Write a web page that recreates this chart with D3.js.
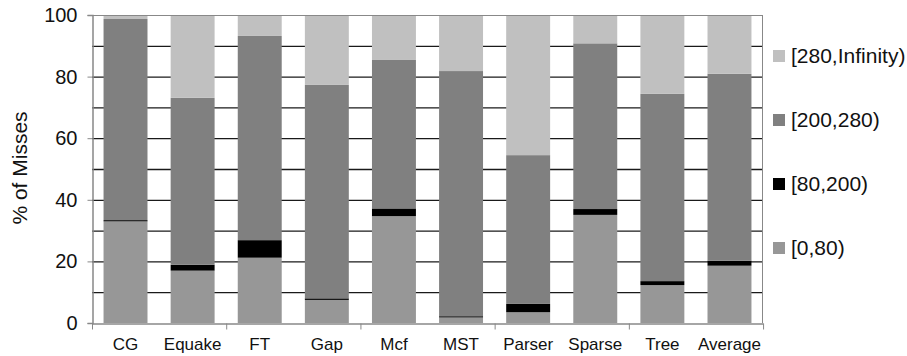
<!DOCTYPE html>
<html><head><meta charset="utf-8">
<script src="https://cdn.jsdelivr.net/npm/d3@7"></script>
<style>body{margin:0;background:#fff}svg{display:block}text{font-family:"Liberation Sans",Arial,sans-serif;fill:#111}</style>
</head><body><svg id="c" width="907" height="356"></svg>
<script>
const categories = ["CG","Equake","FT","Gap","Mcf","MST","Parser","Sparse","Tree","Average"];
const seriesNames = ["[0,80)","[80,200)","[200,280)","[280,Infinity)"];
const s0_80    = [33.0, 17.0, 21.2, 7.5, 34.7, 1.8, 3.5, 35.1, 12.3, 18.6];
const s80_200  = [0.4, 1.9, 5.7, 0.5, 2.5, 0.4, 2.7, 1.9, 1.3, 1.6];
const s200_280 = [65.3, 54.2, 66.3, 69.3, 48.2, 79.6, 48.3, 53.8, 60.8, 60.7];
const s280_inf = [1.3, 26.9, 6.8, 22.7, 14.6, 18.2, 45.5, 9.2, 25.6, 19.1];
const colors = ["#979797","#000000","#808080","#c0c0c0"];
const yTicks = [0,20,40,60,80,100];

const svg = d3.select("#c");
const m = {l:92, r:763, t:15, b:323};
const x = d3.scaleBand().domain(categories).range([m.l,m.r]).paddingInner(0.345).paddingOuter(0.172);
const y = d3.scaleLinear().domain([0,100]).range([m.b,m.t]);

// gridlines
svg.append("g").selectAll("line").data(d3.range(10,100,10)).join("line")
  .attr("x1",m.l).attr("x2",m.r).attr("y1",d=>y(d)+0.5).attr("y2",d=>y(d)+0.5)
  .attr("stroke","#1a1a1a").attr("stroke-width",1.3);

const rows = categories.map((c,i)=>({cat:c, "[0,80)":s0_80[i], "[80,200)":s80_200[i], "[200,280)":s200_280[i], "[280,Infinity)":s280_inf[i]}));
const stack = d3.stack().keys(seriesNames)(rows);
svg.append("g").selectAll("g").data(stack).join("g").attr("fill",(d,i)=>colors[i])
  .selectAll("rect").data(d=>d).join("rect")
  .attr("x",d=>x(d.data.cat)).attr("width",x.bandwidth())
  .attr("y",d=>y(d[1])).attr("height",d=>Math.max(0,y(d[0])-y(d[1])));

// frame
svg.append("line").attr("x1",m.l).attr("x2",m.r).attr("y1",m.t+0.5).attr("y2",m.t+0.5).attr("stroke","#888");
svg.append("line").attr("x1",m.r-0.5).attr("x2",m.r-0.5).attr("y1",m.t).attr("y2",m.b).attr("stroke","#888");

// y axis
const ya = d3.axisLeft(y).tickValues(yTicks).tickSize(5).tickPadding(10);
const gy = svg.append("g").attr("transform",`translate(${m.l+0.5},0)`).call(ya);
gy.select(".domain").attr("stroke","#888").attr("stroke-width",1.5);
gy.selectAll(".tick line").attr("stroke","#888");
gy.selectAll("text").style("font-size","20px").attr("fill","#111");

// x axis
const xa = d3.axisBottom(x).tickSize(0).tickPadding(14);
const gx = svg.append("g").attr("transform",`translate(0,${m.b+0.5})`).call(xa);
gx.select(".domain").attr("stroke","#888").attr("stroke-width",1.5);
gx.selectAll("text").style("font-size","17px").attr("fill","#111");
const step = x.step();
gx.selectAll(".bt").data(d3.range(0,categories.length+1,2)).join("line").attr("class","bt")
  .attr("x1",d=>m.l+d*step+0.5).attr("x2",d=>m.l+d*step+0.5).attr("y1",0).attr("y2",6).attr("stroke","#888");

// y title
svg.append("text").attr("transform","translate(27,168) rotate(-90)").attr("text-anchor","middle")
  .style("font-size","21px").text("% of Misses");

// legend
const legendOrder = [3,2,1,0];
const lg = svg.append("g").selectAll("g").data(legendOrder).join("g")
  .attr("transform",(d,i)=>`translate(773,${56+i*64})`);
lg.append("rect").attr("x",0).attr("y",-6).attr("width",12).attr("height",12).attr("fill",d=>colors[d]);
lg.append("text").attr("x",18).attr("y",0).attr("dy","0.35em").style("font-size","21px").text(d=>seriesNames[d]);
</script></body></html>
